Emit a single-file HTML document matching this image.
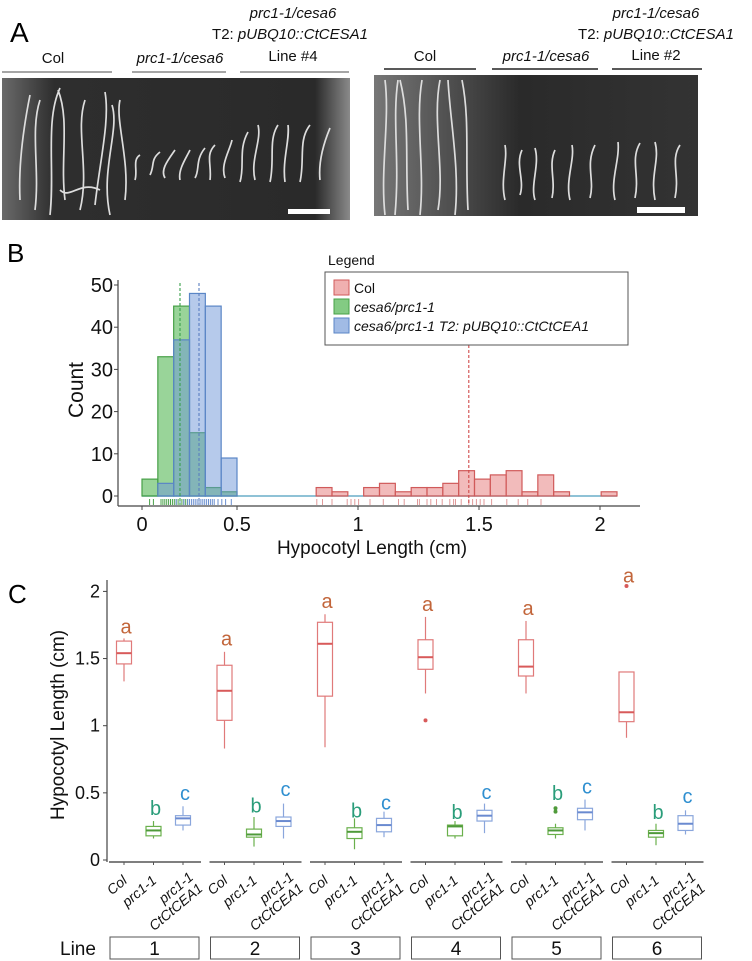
<!DOCTYPE html>
<html><head><meta charset="utf-8"><style>
html,body{margin:0;padding:0;background:#fff;}
svg{display:block;font-family:"Liberation Sans",sans-serif;}
</style></head><body>
<svg id="fig" width="752" height="961" viewBox="0 0 752 961">
<!-- Panel A -->
<g>
<text x="10" y="42" font-size="28">A</text>
<g font-size="15" text-anchor="middle" fill="#111">
<text x="293" y="18" font-style="italic">prc1-1/cesa6</text>
<text x="290" y="39">T2: <tspan font-style="italic">pUBQ10::CtCESA1</tspan></text>
<text x="53" y="63">Col</text>
<text x="180" y="63" font-style="italic">prc1-1/cesa6</text>
<text x="293" y="61">Line #4</text>
<text x="656" y="18" font-style="italic">prc1-1/cesa6</text>
<text x="656" y="39">T2: <tspan font-style="italic">pUBQ10::CtCESA1</tspan></text>
<text x="425" y="61">Col</text>
<text x="546" y="61" font-style="italic">prc1-1/cesa6</text>
<text x="656" y="60">Line #2</text>
</g>
<g stroke-width="1.5">
<line x1="2" y1="72" x2="112" y2="72" stroke="#888"/><line x1="132" y1="72" x2="226" y2="72" stroke="#888"/><line x1="240" y1="72" x2="349" y2="72" stroke="#888"/>
<line x1="384" y1="69" x2="476" y2="69" stroke="#222"/><line x1="492" y1="69" x2="598" y2="69" stroke="#222"/><line x1="612" y1="69" x2="702" y2="69" stroke="#222"/>
</g>
<defs>
<linearGradient id="pl" x1="0" x2="1"><stop offset="0" stop-color="#6a6a6a"/><stop offset="0.15" stop-color="#2e2e2e"/><stop offset="0.9" stop-color="#2a2a2a"/><stop offset="1" stop-color="#8a8a8a"/></linearGradient>
<linearGradient id="pr" x1="0" x2="1"><stop offset="0" stop-color="#777"/><stop offset="0.3" stop-color="#444"/><stop offset="0.45" stop-color="#2a2a2a"/><stop offset="1" stop-color="#333"/></linearGradient>
</defs>
<rect x="2" y="78" width="348" height="142" fill="url(#pl)"/>
<rect x="374" y="75" width="324" height="141" fill="url(#pr)"/>
<g fill="none" stroke="#ddd" stroke-width="1.7">
<path d="M20 200 C18 160 25 120 30 95 M35 210 C40 170 30 130 40 100 M50 215 C55 170 45 120 60 88 M65 200 C60 160 70 120 58 90 M80 210 C90 170 75 130 85 100 M95 205 C100 160 110 120 105 92 M110 215 C100 170 120 130 112 105 M125 200 C130 160 115 120 120 100 M100 190 C80 180 70 200 60 190"/>
<path d="M135 180 C138 170 132 160 140 155 M150 175 C155 165 150 160 160 152 M165 178 C160 170 168 160 175 150 M180 180 C178 170 185 160 190 150 M195 178 C200 170 195 160 205 148 M210 180 C212 165 205 155 215 145 M225 178 C220 165 230 150 232 140 M240 182 C245 165 238 150 248 132 M255 180 C250 160 262 140 258 125 M270 182 C275 160 268 140 278 125 M285 182 C282 160 290 140 288 125 M300 182 C305 160 298 140 310 125 M320 180 C318 160 325 140 330 128"/>
<path d="M385 215 C380 170 390 120 385 80 M395 215 C400 160 392 120 398 80 M408 210 C405 160 410 120 400 80 M420 215 C425 170 415 120 422 80 M438 210 C445 170 432 120 440 80 M455 215 C460 170 450 120 448 80 M468 210 C465 160 470 120 462 80"/>
<path d="M505 200 C500 180 508 160 505 145 M520 195 C525 180 515 165 522 150 M535 200 C530 185 540 165 535 148 M552 198 C556 180 548 165 555 150 M570 200 C565 180 575 160 572 145 M590 198 C595 180 585 165 595 145 M615 200 C610 180 620 160 618 142 M635 198 C640 175 630 160 640 143 M655 200 C650 175 660 160 655 142 M675 198 C680 175 670 160 680 145"/>
</g>
<rect x="288" y="209" width="42" height="5" fill="#fff"/>
<rect x="637" y="207" width="48" height="6" fill="#fff"/>
</g>

<!-- Panel B -->
<g id="histo">
<text x="7" y="262" font-size="26">B</text>
</g>
<!-- Panel C -->
<g id="boxes">
<text x="8" y="603" font-size="26">C</text>
</g>
</svg>
<script>
const NS='http://www.w3.org/2000/svg';
// ---- Panel B data ----
const binWidth=1/12;
const greenCounts=[4,33,45,15,2,1];
const blueCounts=[0,3,37,48,45,9];
const redStartBin=11;
const redCounts=[2,1,0,2,3,1,2,2,3,6,4,5,6,1,5,1,0,0,1];
const meanValues=[0.2,0.3,1.72];
const yTicksB=[0,10,20,30,40,50];
const xTickValsB=[0,0.5,1,1.5,2];
const xTickLabelsB=['0','0.5','1','1.5','2'];
const greenRug=[0.04,0.06,0.1,0.11,0.12,0.13,0.14,0.15,0.16,0.17,0.18,0.19,0.2,0.21,0.22,0.23,0.24];
const blueRug=[0.18,0.2,0.22,0.24,0.25,0.26,0.27,0.28,0.29,0.3,0.31,0.32,0.33,0.34,0.35,0.36,0.37,0.38,0.4,0.42,0.44,0.47];
const redRug=[0.92,0.95,1.0,1.08,1.1,1.12,1.14,1.2,1.27,1.35,1.38,1.45,1.46,1.5,1.52,1.55,1.58,1.62,1.64,1.65,1.68,1.72,1.74,1.76,1.78,1.8,1.84,1.92,1.98,2.03,2.1];
// ---- Panel C data ----
const lines=['1','2','3','4','5','6'];
const genotypes=['Col','prc1-1','CtCtCEA1'];
const colStats=[[1.33,1.46,1.54,1.63,1.65],[0.83,1.04,1.26,1.45,1.55],[0.84,1.22,1.61,1.77,1.83],[1.24,1.42,1.51,1.64,1.81],[1.24,1.37,1.44,1.64,1.78],[0.91,1.03,1.10,1.40,1.40]];
const prcStats=[[0.16,0.18,0.22,0.25,0.29],[0.10,0.17,0.19,0.23,0.32],[0.08,0.16,0.21,0.24,0.31],[0.16,0.18,0.25,0.26,0.29],[0.16,0.19,0.22,0.24,0.27],[0.11,0.17,0.20,0.22,0.27]];
const ctcStats=[[0.22,0.26,0.31,0.33,0.40],[0.16,0.25,0.29,0.32,0.42],[0.17,0.21,0.26,0.31,0.36],[0.20,0.29,0.33,0.37,0.42],[0.22,0.30,0.355,0.385,0.45],[0.19,0.22,0.27,0.33,0.37]];
const colOutliers=[[],[],[],[1.04],[],[2.04]];
const prcOutliers=[[],[],[],[],[0.385,0.36],[]];
const colLetterY=[1.73,1.64,1.92,1.90,1.87,2.11];
const prcLetterY=[0.38,0.40,0.36,0.35,0.49,0.35];
const ctcLetterY=[0.49,0.52,0.42,0.50,0.54,0.47];
const yTicksC=[0,0.5,1,1.5,2];
const yTickLabelsC=['0','0.5','1','1.5','2'];

function mk(tag,attrs,parent,txt){const e=document.createElementNS(NS,tag);for(const k in attrs)e.setAttribute(k,attrs[k]);if(txt!==undefined)e.textContent=txt;parent.appendChild(e);return e;}

// ===== Panel B =====
const gB=document.getElementById('histo');
const xB=v=>142+v*190;
const xTickB=v=>v<=0.5?142+v*190:237+(v-0.5)*242;
const yB=c=>496-c*4.22;
let e=mk('line',{x1:118,y1:280,x2:118,y2:506,stroke:'#444','stroke-width':1.2},gB);

e=mk('line',{x1:118,y1:506,x2:640,y2:506,stroke:'#444','stroke-width':1.2},gB);

yTicksB.forEach(t=>{
 mk('line',{x1:114,y1:yB(t),x2:118,y2:yB(t),stroke:'#444'},gB);
 e=mk('text',{x:113,y:yB(t)+7,'font-size':20,'text-anchor':'end',fill:'#111'},gB,String(t));
 
});
xTickValsB.forEach((t,i)=>{
 mk('line',{x1:xTickB(t),y1:506,x2:xTickB(t),y2:510,stroke:'#444'},gB);
 e=mk('text',{x:xTickB(t),y:531,'font-size':20,'text-anchor':'middle',fill:'#111'},gB,xTickLabelsB[i]);
 
});
e=mk('text',{x:372,y:554,'font-size':19,'text-anchor':'middle',fill:'#111'},gB,'Hypocotyl Length (cm)');

e=mk('text',{x:0,y:0,'font-size':21,'text-anchor':'middle',fill:'#111',transform:'translate(83,390) rotate(-90)'},gB,'Count');

e=mk('line',{x1:xB(0),y1:496,x2:xB(redStartBin*binWidth+redCounts.length*binWidth),y2:496,stroke:'#6aaec8','stroke-width':1.5},gB);

function bars(counts,start,fill,stroke,name){
 counts.forEach((c,i)=>{ if(c<=0)return;
  const x0=xB((start+i)*binWidth),x1=xB((start+i+1)*binWidth);
  const r=mk('rect',{x:x0,y:yB(c),width:x1-x0,height:yB(0)-yB(c),fill:fill,stroke:stroke,'stroke-width':1.2},gB);
  
  
 });
}
bars(greenCounts,0,'rgba(90,185,90,0.62)','#47a047','bar-cesa6-prc1');
bars(blueCounts,0,'rgba(110,150,215,0.5)','#5a86c6','bar-ctcesa1');
bars(redCounts,redStartBin,'rgba(235,150,150,0.65)','#d05a5a','bar-col');
function rug(vals,col,name){vals.forEach(v=>{const l=mk('line',{x1:xB(v),y1:499,x2:xB(v),y2:505,stroke:col,'stroke-width':1},gB);});}
rug(greenRug,'#4aa04a','rug-cesa6-prc1');rug(blueRug,'#6a8fcf','rug-ctcesa1');rug(redRug,'#e09a9a','rug-col');
const meanCols=['#3aa04a','#5a7fc0','#d04a4a'];const meanTop=[283,283,345];
meanValues.forEach((m,i)=>{const l=mk('line',{x1:xB(m),y1:meanTop[i],x2:xB(m),y2:505,stroke:meanCols[i],'stroke-width':1.1,'stroke-dasharray':'3,2'},gB);});
e=mk('text',{x:328,y:265,'font-size':14,fill:'#111'},gB,'Legend');

e=mk('rect',{x:325,y:272,width:303,height:73,fill:'#fff',stroke:'#555','stroke-width':1},gB);

const legTxt=['Col','cesa6/prc1-1','cesa6/prc1-1 T2: pUBQ10::CtCtCEA1'];
const legFill=['rgba(235,150,150,0.75)','rgba(90,185,90,0.75)','rgba(110,150,215,0.65)'];
const legStroke=['#d05a5a','#47a047','#5a86c6'];
legTxt.forEach((t,i)=>{const y=280+i*19;
 const r=mk('rect',{x:334,y:y,width:15,height:15,fill:legFill[i],stroke:legStroke[i]},gB);
 
 const tx=mk('text',{x:354,y:y+13,'font-size':14,fill:'#111','font-style':i?'italic':'normal'},gB,t);
 
});

// ===== Panel C =====
const gC=document.getElementById('boxes');
const yC=v=>860-v*134.3;
const xC=(li,gi)=>124+li*100.5+gi*29.5;
e=mk('line',{x1:107,y1:580,x2:107,y2:862,stroke:'#444','stroke-width':1.2},gC);

yTicksC.forEach((t,i)=>{
 mk('line',{x1:103,y1:yC(t),x2:107,y2:yC(t),stroke:'#444'},gC);
 const tx=mk('text',{x:100,y:yC(t)+6,'font-size':18,'text-anchor':'end',fill:'#111'},gC,yTickLabelsC[i]);
 
});
e=mk('text',{x:0,y:0,'font-size':19,'text-anchor':'middle',fill:'#111',transform:'translate(64,725) rotate(-90)'},gC,'Hypocotyl Length (cm)');

const stroke=['#e07a7a','#6ab04c','#8aa6dc'];const medStroke=['#d85a5a','#4f9a3a','#6a8ad0'];
const letterCol=['#c2653a','#2a9d7a','#2f8fd0'];const letters=['a','b','c'];
const allStats=[colStats,prcStats,ctcStats];const allOut=[colOutliers,prcOutliers,null];const allLet=[colLetterY,prcLetterY,ctcLetterY];
lines.forEach((ln,li)=>{
 const seg=mk('line',{x1:109+li*100.5,y1:862,x2:201+li*100.5,y2:862,stroke:'#555','stroke-width':1.5},gC);
 
 genotypes.forEach((g,gi)=>{
  const s=allStats[gi][li];const cx=xC(li,gi);const hw=7.5;
  const w1=mk('line',{x1:cx,y1:yC(s[0]),x2:cx,y2:yC(s[4]),stroke:stroke[gi],'stroke-width':1.2},gC);
  
  const b=mk('rect',{x:cx-hw,y:yC(s[3]),width:hw*2,height:yC(s[1])-yC(s[3]),fill:'#fff',stroke:stroke[gi],'stroke-width':1.2},gC);
  
  const m=mk('line',{x1:cx-hw,y1:yC(s[2]),x2:cx+hw,y2:yC(s[2]),stroke:medStroke[gi],'stroke-width':2},gC);
  
  if(allOut[gi])allOut[gi][li].forEach(o=>{const c=mk('circle',{cx:cx,cy:yC(o),r:2,fill:medStroke[gi]},gC);});
  const lt=mk('text',{x:cx+2,y:yC(allLet[gi][li])+6,'font-size':20,'text-anchor':'middle',fill:letterCol[gi]},gC,letters[gi]);
  
  mk('line',{x1:cx,y1:862,x2:cx,y2:865,stroke:'#555'},gC);
  const lab=mk('text',{x:0,y:0,'font-size':14,'font-style':'italic','text-anchor':'end',fill:'#111',transform:'translate('+(cx+4)+',870) rotate(-40)'},gC);
  
  if(gi<2){lab.textContent=g;}else{
   mk('tspan',{x:0,dy:'0.8em'},lab,'prc1-1');mk('tspan',{x:0,dy:'1.05em'},lab,'CtCtCEA1');}
  if(gi<2)lab.setAttribute('transform','translate('+(cx+4)+',882) rotate(-40)');
 });
 const lb=mk('rect',{x:110+li*100.5,y:937,width:89,height:22,fill:'#fff',stroke:'#555','stroke-width':1},gC);
 
 const lt=mk('text',{x:154.5+li*100.5,y:955,'font-size':19,'text-anchor':'middle',fill:'#111'},gC,ln);
 
});
e=mk('text',{x:60,y:955,'font-size':19,fill:'#111'},gC,'Line');

</script>
</body></html>
